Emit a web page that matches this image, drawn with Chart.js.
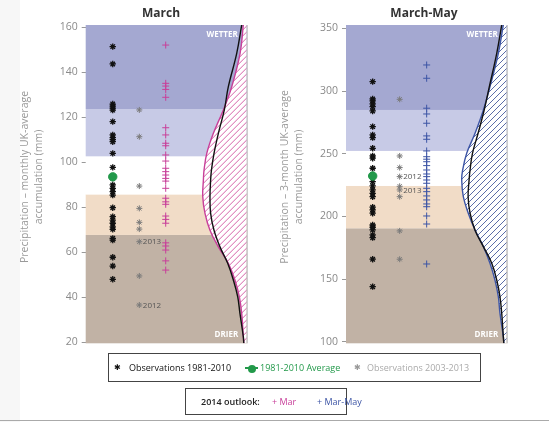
<!DOCTYPE html>
<html><head><meta charset="utf-8">
<script src="https://cdn.jsdelivr.net/npm/chart.js@4.4.1/dist/chart.umd.min.js"></script>
<style>
html,body{margin:0;padding:0;background:#fff;}
#wrap{position:relative;width:549px;height:422px;overflow:hidden;font-family:'Open Sans',sans-serif;background:#fff;}
canvas{position:absolute;left:0;top:0;}
.box{position:absolute;border:1px solid #444;box-sizing:border-box;}
.it{position:absolute;white-space:nowrap;font-size:9px;line-height:12px;transform:translateY(-50%);}
.mk{font-family:'DejaVu Sans',sans-serif;font-size:8px;}
</style></head><body>
<div id="wrap">
<div style="position:absolute;left:0;top:0;width:20px;height:422px;background:#f7f7f7"></div>
<canvas id="c1" width="549" height="362"></canvas>
<canvas id="c2" width="549" height="362"></canvas>
<div class="box" style="left:108px;top:353px;width:373px;height:29px"></div>
<span class="it mk" style="left:114px;top:368px;color:#111">✱</span>
<span class="it" style="left:129px;top:368px;color:#111">Observations 1981-2010</span>
<div style="position:absolute;left:245px;top:367px;width:13px;height:2px;background:#22994a"></div>
<div style="position:absolute;left:247.5px;top:364.5px;width:8px;height:8px;border-radius:50%;background:#22994a"></div>
<span class="it" style="left:260px;top:368px;color:#22994a">1981-2010 Average</span>
<span class="it mk" style="left:354px;top:368px;color:#999">✱</span>
<span class="it" style="left:367px;top:368px;color:#aaa">Observations 2003-2013</span>
<div class="box" style="left:185px;top:388px;width:162px;height:27px"></div>
<span class="it" style="left:201px;top:401.5px;color:#222;font-weight:600">2014 outlook:</span>
<span class="it" style="left:272px;top:401.5px;color:#c8409a">+ Mar</span>
<span class="it" style="left:317px;top:401.5px;color:#3d55a5">+ Mar-May</span>
<div style="position:absolute;left:0;top:420px;width:549px;height:1px;background:#aaa"></div>
</div>
<script>
// ---- data: March (monthly) ----
const ticksMar = [20, 40, 60, 80, 100, 120, 140, 160];
const cutsMar = [67.7, 85.7, 102.6, 123.6];
const obsMar = [151.3, 143.6, 125.8, 124.9, 124.0, 123.1, 118.0, 112.1, 110.9, 110.0, 109.1, 103.9, 97.7, 93.0,
  89.9, 88.4, 86.9, 85.4, 79.8, 75.8, 74.3, 72.9, 71.3, 70.2, 66.2, 65.4, 57.8, 53.9, 48.0];
const avgMar = [93.5];
const recentMar = [123.2, 111.3, 89.4, 79.5, 73.3, 70.3, 64.7, 49.5, 36.6];
const yearsMar = ['2013', '2012'];
const yearValsMar = [64.7, 36.6];
const fcstMar = [152.0, 135.0, 133.8, 132.3, 128.8, 115.3, 112.1, 108.4, 107.3, 103.2, 100.5, 97.3, 95.8, 94.3,
  92.8, 91.6, 88.4, 84.0, 82.4, 81.3, 76.1, 74.6, 72.9, 64.2, 62.8, 61.0, 56.2, 52.1];
const curveYMar = [160.9, 148.3, 133.5, 123.2, 112.8, 103.9, 96.5, 92.1, 84.7, 77.3, 69.8, 62.4, 55.1, 47.7, 40.3, 32.9, 22.5, 19.6];
const fcstDensMar = [2.1, 4.1, 9.3, 14.5, 20.7, 24.8, 26.5, 26.9, 27.3, 25.9, 22.8, 17.6, 11.4, 7.3, 4.6, 3.1, 2.1, 1.8];
const climDensMar = [3.1, 6.2, 11.4, 13.9, 17.6, 20.3, 21.9, 22.4, 22.8, 22.4, 20.3, 16.6, 11.8, 8.3, 5.6, 4.2, 2.1, 1.8];

// ---- data: March-May (3-month) ----
const ticksMam = [100, 150, 200, 250, 300, 350];
const cutsMam = [190.5, 224.3, 252.2, 284.9];
const obsMam = [307.5, 293.7, 292.1, 289.7, 287.5, 284.1, 271.6, 265.0, 262.8, 254.3, 248.2, 246.4, 238.4, 232.0,
  227.7, 224.3, 221.1, 218.4, 215.7, 207.3, 205.1, 202.5, 193.1, 191.3, 189.2, 185.2, 183.0, 165.8, 143.9];
const avgMam = [232.2];
const recentMam = [293.4, 248.2, 238.9, 231.7, 224.0, 221.1, 215.7, 188.4, 165.8];
const yearsMam = ['2012', '2013'];
const yearValsMam = [231.7, 221.1];
const fcstMam = [320.8, 310.2, 286.3, 281.7, 274.3, 264.2, 261.5, 252.2, 247.6, 245.6, 243.6, 240.5, 237.0, 233.8,
  231.7, 229.0, 226.4, 222.4, 219.7, 216.3, 213.1, 209.9, 207.7, 200.3, 193.9, 162.0];
const curveYMam = [352.7, 330.1, 303.5, 284.9, 266.3, 250.3, 237.0, 229.0, 215.7, 202.5, 189.0, 175.8, 162.6, 149.2, 135.9, 122.7, 104.0, 98.7];
const fcstDensMam = [2.1, 5.2, 10.4, 14.5, 19.7, 24.9, 27.4, 28.0, 27.0, 23.9, 19.7, 14.5, 10.4, 7.3, 5.2, 4.2, 2.1, 1.8];
const climDensMam = [3.1, 6.2, 10.8, 14.0, 17.8, 21.3, 22.8, 23.4, 24.0, 22.8, 19.7, 14.5, 9.3, 6.2, 4.2, 3.1, 2.1, 1.8];

const bandColors = ['#c1b2a5', '#f1dcc7', '#ffffff', '#c7cae6', '#a4a8d1'];

const deco = {
  id: 'deco',
  beforeDatasetsDraw(chart, args, o) {
    const {ctx, chartArea: a} = chart, y = chart.scales.y;
    const edges = [y.min, ...o.cuts, y.max];
    ctx.save();
    for (let i = 0; i < bandColors.length; i++) {
      const p0 = y.getPixelForValue(edges[i]), p1 = y.getPixelForValue(edges[i + 1]);
      ctx.fillStyle = bandColors[i];
      ctx.fillRect(a.left, p1, a.right - a.left, p0 - p1);
    }
    ctx.restore();
  },
  beforeDatasetDraw(chart, args, o) {
    if (args.index !== 0) return;
    const {ctx, chartArea: a} = chart;
    const line = args.meta.dataset, pts = args.meta.data;
    const edge = chart.scales.xd.getPixelForValue(0);
    ctx.save();
    ctx.beginPath();
    line.path(ctx);
    ctx.lineTo(edge, pts[pts.length - 1].y);
    ctx.lineTo(edge, pts[0].y);
    ctx.closePath();
    ctx.clip();
    ctx.fillStyle = '#fff';
    ctx.fillRect(a.left, a.top, a.right - a.left, a.bottom - a.top);
    ctx.strokeStyle = o.hatchColor; ctx.lineWidth = 0.9;
    const H = a.bottom - a.top;
    ctx.beginPath();
    for (let c = a.left - H; c < a.right + 6; c += 6) {
      ctx.moveTo(c, a.bottom); ctx.lineTo(c + H, a.top);
    }
    ctx.stroke();
    ctx.restore();
  },
  afterDatasetsDraw(chart, args, o) {
    const {ctx, chartArea: a} = chart, y = chart.scales.y, x = chart.scales.x;
    ctx.save();
    ctx.strokeStyle = '#b5b5b5'; ctx.lineWidth = 1;
    ctx.beginPath(); ctx.moveTo(a.right + 0.5, a.top); ctx.lineTo(a.right + 0.5, a.bottom); ctx.stroke();
    ctx.fillStyle = '#fff'; ctx.font = 'bold 8px "Open Sans"'; ctx.textAlign = 'right'; ctx.textBaseline = 'middle';
    ctx.fillText('WETTER', a.right - 9, a.top + 9.5);
    ctx.fillText('DRIER', a.right - 8.5, a.bottom - 9);
    ctx.fillStyle = '#555'; ctx.font = '8px "Open Sans"'; ctx.textAlign = 'left';
    o.years.forEach((t, i) => ctx.fillText(t, x.getPixelForValue(o.recentCol) + 3.5, y.getPixelForValue(o.yearVals[i]) + 0.5));
    ctx.restore();
  },
  afterDraw(chart, args, o) {
    const ctx = chart.ctx;
    ctx.save();
    ctx.fillStyle = '#333'; ctx.font = 'bold 12px "Open Sans"'; ctx.textAlign = 'center'; ctx.textBaseline = 'middle';
    ctx.fillText(o.title, o.titleX, 14);
    ctx.fillStyle = '#9a9a9a'; ctx.font = '10.5px "Open Sans"';
    o.axisTitle.forEach((t, i) => {
      ctx.save(); ctx.translate(o.axX[i], 177); ctx.rotate(-Math.PI / 2); ctx.fillText(t, 0, 0); ctx.restore();
    });
    ctx.restore();
  }
};

function makePanel(p) {
  const pts = (vals, col) => vals.map(v => ({x: col, y: v}));
  const curve = (ys, ds) => ys.map((v, i) => ({x: ds[i], y: v}));
  new Chart(document.getElementById(p.canvas), {
    type: 'scatter',
    data: {datasets: [
      {type: 'line', data: curve(p.curveY, p.fcstDens), xAxisID: 'xd', yAxisID: 'y', indexAxis: 'y',
        borderColor: p.fcstColor, borderWidth: 1.4, pointRadius: 0, tension: 0.4, fill: false, order: 5},
      {type: 'line', data: curve(p.curveY, p.climDens), xAxisID: 'xd', yAxisID: 'y', indexAxis: 'y',
        borderColor: '#111', borderWidth: 1.4, pointRadius: 0, tension: 0.4, fill: false, order: 4},
      {data: pts(p.fcst, p.cols[2]), xAxisID: 'x', pointStyle: 'cross', pointRadius: 3.5, borderWidth: 1,
        borderColor: p.fcstColor, order: 3},
      {data: pts(p.recent, p.cols[1]), xAxisID: 'x', pointStyle: 'star', pointRadius: 3, borderWidth: 1,
        borderColor: '#7a7a7a', order: 2},
      {data: pts(p.obs, p.cols[0]), xAxisID: 'x', pointStyle: 'star', pointRadius: 3.2, borderWidth: 1.3,
        borderColor: '#111', order: 1},
      {data: pts(p.avg, p.cols[0]), xAxisID: 'x', pointStyle: 'circle', pointRadius: 4.2, borderWidth: 1,
        borderColor: '#22994a', backgroundColor: '#22994a', order: 0}
    ]},
    options: {
      responsive: false, animation: false, events: [],
      layout: {padding: {left: p.padL, right: p.padR, top: 25, bottom: 362 - 343.3}},
      plugins: {legend: {display: false}, tooltip: {enabled: false},
        deco: {cuts: p.cuts, years: p.years, yearVals: p.yearVals, recentCol: p.cols[1], title: p.title,
          titleX: p.titleX, axisTitle: p.axisTitle, axX: p.axX, hatchColor: p.hatchColor}},
      scales: {
        x: {type: 'linear', axis: 'x', min: 0, max: 100, display: false},
        xd: {type: 'linear', axis: 'x', min: 0, max: 100, reverse: true, display: false},
        y: {type: 'linear', position: 'left', min: p.yMin, max: p.yMax,
          afterFit(s) { s.width = p.yW; },
          afterBuildTicks(s) { s.ticks = p.ticks.map(v => ({value: v})); },
          grid: {drawOnChartArea: false, drawTicks: true, tickLength: 4, color: '#999'},
          border: {display: false},
          ticks: {color: '#8a8a8a', padding: 4, font: {family: 'Open Sans', size: 10.5}}}
      }
    },
    plugins: [deco]
  });
}

makePanel({canvas: 'c1', title: 'March', titleX: 161,
  axisTitle: ['Precipitation – monthly UK-average', 'accumulation (mm)'], axX: [25, 39.5],
  yMin: 19.6, yMax: 160.9, ticks: ticksMar, cuts: cutsMar, obs: obsMar, avg: avgMar, recent: recentMar,
  years: yearsMar, yearVals: yearValsMar, fcst: fcstMar, curveY: curveYMar, fcstDens: fcstDensMar,
  climDens: climDensMar, fcstColor: '#c8409a', hatchColor: '#d0509f', padL: 0, yW: 85.7, padR: 549 - 246.7,
  cols: [16.8, 33.3, 49.7]});

makePanel({canvas: 'c2', title: 'March-May', titleX: 424,
  axisTitle: ['Precipitation – 3-month UK-average', 'accumulation (mm)'], axX: [285, 299],
  yMin: 98.7, yMax: 352.7, ticks: ticksMam, cuts: cutsMam, obs: obsMam, avg: avgMam, recent: recentMam,
  years: yearsMam, yearVals: yearValsMam, fcst: fcstMam, curveY: curveYMam, fcstDens: fcstDensMam,
  climDens: climDensMam, fcstColor: '#3d55a5', hatchColor: '#4a5c9e', padL: 290, yW: 56, padR: 549 - 506.7,
  cols: [16.6, 33.4, 50.2]});
</script>
</body></html>
